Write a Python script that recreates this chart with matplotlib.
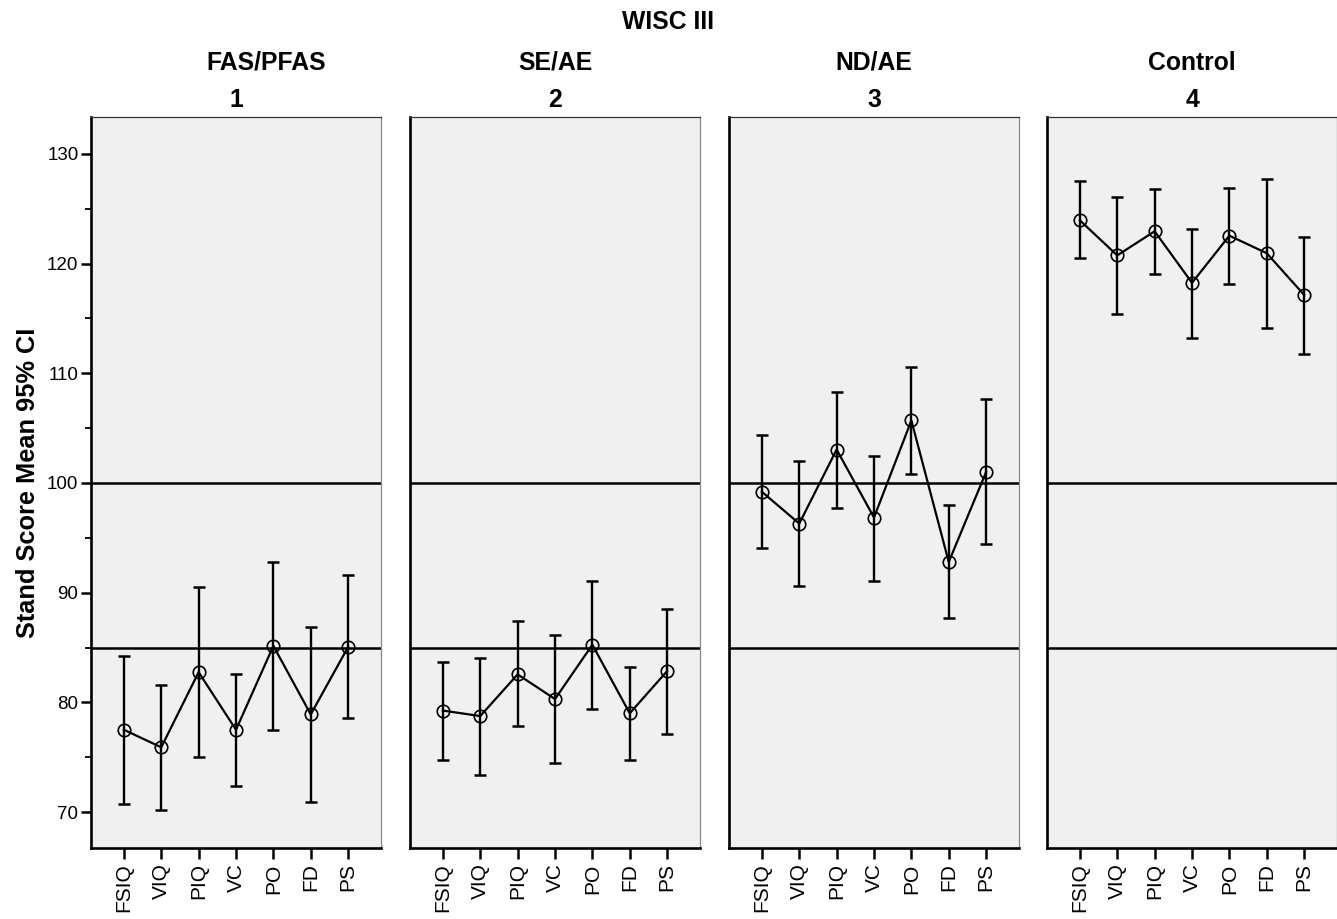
import matplotlib
matplotlib.use("Agg")
import matplotlib.pyplot as plt
from matplotlib.ticker import MultipleLocator

plt.rcParams['font.family'] = ['Liberation Sans', 'DejaVu Sans']

measures = ["FSIQ", "VIQ", "PIQ", "VC", "PO", "FD", "PS"]
groups = ["FAS/PFAS", "SE/AE", "ND/AE", "Control"]
group_ids = ["1", "2", "3", "4"]

mean_fas = [77.5, 75.9, 82.75, 77.5, 85.15, 78.9, 85.05]
low_fas = [70.75, 70.2, 75.0, 72.4, 77.5, 70.9, 78.6]
high_fas = [84.2, 81.6, 90.55, 82.6, 92.8, 86.9, 91.6]

mean_se = [79.25, 78.75, 82.55, 80.3, 85.25, 79.0, 82.85]
low_se = [74.75, 73.4, 77.8, 74.5, 79.4, 74.75, 77.1]
high_se = [83.7, 84.0, 87.4, 86.1, 91.1, 83.2, 88.5]

mean_nd = [99.2, 96.3, 103.05, 96.85, 105.7, 92.8, 101.0]
low_nd = [94.1, 90.6, 97.7, 91.1, 100.8, 87.7, 94.4]
high_nd = [104.35, 102.0, 108.3, 102.5, 110.6, 98.0, 107.7]

mean_ct = [123.95, 120.75, 122.95, 118.25, 122.55, 120.95, 117.15]
low_ct = [120.5, 115.4, 119.1, 113.2, 118.1, 114.15, 111.8]
high_ct = [127.5, 126.1, 126.8, 123.2, 126.9, 127.7, 122.45]

ref_lines = [85, 100]

means = [mean_fas, mean_se, mean_nd, mean_ct]
lows = [low_fas, low_se, low_nd, low_ct]
highs = [high_fas, high_se, high_nd, high_ct]

W, H = 1337, 919
fig = plt.figure(figsize=(W / 100, H / 100), dpi=100)

lefts = [91, 410, 729, 1047]
pw = 290
top, bottom = 117, 848
bg = "#f0f0f0"

for i in range(4):
    ax = fig.add_axes([lefts[i] / W, 1 - bottom / H, pw / W, (bottom - top) / H])
    ax.set_facecolor(bg)
    x = list(range(len(measures)))
    for r in ref_lines:
        ax.axhline(r, color="black", lw=1.8, zorder=1)
    yerr = [[m - l for m, l in zip(means[i], lows[i])],
            [h - m for m, h in zip(means[i], highs[i])]]
    ax.errorbar(x, means[i], yerr=yerr, fmt="none", ecolor="black",
                elinewidth=1.7, capsize=4.4, capthick=1.8, zorder=2)
    ax.plot(x, means[i], color="black", lw=1.6, marker="o", ms=9,
            mfc="none", mec="black", mew=1.2, zorder=3)
    ax.set_xlim(-0.88, 6.88)
    ax.set_ylim(66.72, 133.37)
    ax.set_xticks(x)
    ax.set_xticklabels(measures, rotation=90, fontsize=15)
    ax.tick_params(axis="x", length=8, width=1.8, pad=3)
    ax.yaxis.set_major_locator(MultipleLocator(10))
    ax.yaxis.set_minor_locator(MultipleLocator(5))
    if i == 0:
        ax.tick_params(axis="y", which="major", length=7, width=1.8, labelsize=13.5, pad=2)
        ax.tick_params(axis="y", which="minor", length=4, width=1.3)
        ax.set_ylabel("Stand Score Mean 95% CI", fontsize=18.3, fontweight="bold", labelpad=5)
    else:
        ax.tick_params(axis="y", which="both", length=0, labelleft=False)
    ax.spines["left"].set_linewidth(1.9)
    ax.spines["bottom"].set_linewidth(1.9)
    ax.spines["top"].set_linewidth(0.9)
    ax.spines["top"].set_color("#333333")
    ax.spines["right"].set_linewidth(0.9)
    ax.spines["right"].set_color("#888888")
    cx = lefts[i] + pw / 2
    hx = 266 if i == 0 else cx
    fig.text(hx / W, 1 - 63 / H, groups[i], ha="center", va="center",
             fontsize=17.8, fontweight="bold")
    fig.text(cx / W, 1 - 100 / H, group_ids[i], ha="center", va="center",
             fontsize=17.8, fontweight="bold")

fig.text(668 / W, 1 - 22 / H, "WISC III", ha="center", va="center",
         fontsize=17.8, fontweight="bold")

fig.savefig("out.png", dpi=100)
